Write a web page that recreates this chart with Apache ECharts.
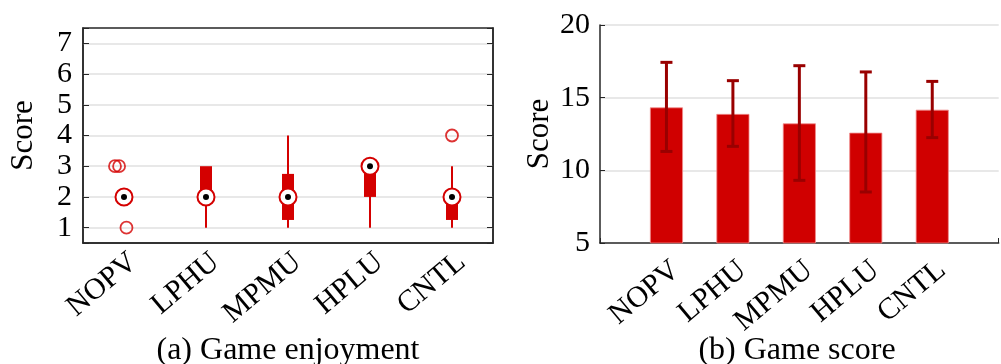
<!DOCTYPE html>
<html>
<head>
<meta charset="utf-8">
<script src="https://cdn.jsdelivr.net/npm/echarts@6/dist/echarts.min.js"></script>
<style>html,body{margin:0;padding:0;background:#fff}#c{width:1001px;height:364px}</style>
</head>
<body>
<div id="c"></div>
<script>
// ---- data ----
const categories = ['NOPV', 'LPHU', 'MPMU', 'HPLU', 'CNTL'];
// left: game enjoyment box stats [min, q1, median, q3, max]
const boxMin    = [2, 1, 1,    1, 1];
const boxQ1     = [2, 2, 1.25, 2, 1.25];
const boxMedian = [2, 2, 2,    3, 2];
const boxQ3     = [2, 3, 2.75, 3, 2];
const boxMax    = [2, 2, 4,    3, 3];
// outliers: [category position (with jitter), value]
const outlierX = [0.89, 0.94, 1.03, 5.0];
const outlierY = [3, 3, 1, 4];
const enjoyTicks = [1, 2, 3, 4, 5, 6, 7];
// right: game score mean and error extents
const scoreMean = [14.33, 13.88, 13.23, 12.59, 14.17];
const scoreLow  = [11.3, 11.65, 9.31, 8.51, 12.25];
const scoreHigh = [17.43, 16.17, 17.2, 16.77, 16.12];
const scoreTicks = [5, 10, 15, 20];

const FONT = '"Liberation Serif", "Times New Roman", serif';
const RED = '#d40000';
const DARK = '#262626';

const catLabel = v => (Number.isInteger(v) && v >= 1 && v <= categories.length) ? categories[v - 1] : '';
const xLabelStyle = m => ({fontFamily: FONT, fontSize: 30, color: '#000', rotate: 40, margin: m,
                           align: 'right', verticalAlign: 'top', formatter: catLabel});

const boxData = categories.map((c, i) => [i + 1, boxMin[i], boxQ1[i], boxMedian[i], boxQ3[i], boxMax[i]]);
const outlierData = outlierX.map((x, i) => [x, outlierY[i]]);
const barData = categories.map((c, i) => [i + 1, scoreMean[i]]);
const errData = categories.map((c, i) => [i + 1, scoreLow[i], scoreHigh[i]]);

const chart = echarts.init(document.getElementById('c'), null, {renderer: 'canvas'});
chart.setOption({
  animation: false,
  backgroundColor: '#fff',
  title: [
    {text: '(a) Game enjoyment', left: 283, top: 330, textAlign: 'center',
     textStyle: {fontFamily: FONT, fontSize: 32, fontWeight: 'normal', color: '#000'}},
    {text: '(b) Game score', left: 792, top: 330, textAlign: 'center',
     textStyle: {fontFamily: FONT, fontSize: 32, fontWeight: 'normal', color: '#000'}}
  ],
  grid: [
    {left: 83, top: 28, width: 410, height: 215, show: true, borderColor: DARK, borderWidth: 1.5, backgroundColor: 'transparent'},
    {left: 600, top: 25, width: 404, height: 218}
  ],
  xAxis: [
    {type: 'value', gridIndex: 0, min: 0.5, max: 5.5, splitNumber: 5,
     axisLine: {show: true, lineStyle: {color: DARK, width: 1.5}},
     axisTick: {show: false}, splitLine: {show: false},
     axisLabel: xLabelStyle(4)},
    {type: 'value', gridIndex: 1, min: 0, max: 6, interval: 1,
     axisLine: {show: true, onZero: false, lineStyle: {color: DARK, width: 1.5}},
     axisTick: {show: true, inside: true, length: 5, lineStyle: {color: DARK, width: 1}},
     splitLine: {show: false},
     axisLabel: xLabelStyle(12)}
  ],
  yAxis: [
    {type: 'value', gridIndex: 0, min: 0.5, max: 7.5, splitNumber: 7, position: 'left',
     name: 'Score', nameLocation: 'middle', nameGap: 44,
     nameTextStyle: {fontFamily: FONT, fontSize: 31, color: '#000'},
     axisLine: {show: true, lineStyle: {color: DARK, width: 1.5}},
     axisTick: {show: true, inside: true, length: 6, lineStyle: {color: DARK, width: 1}},
     splitLine: {show: true, showMinLine: false, showMaxLine: false, lineStyle: {color: '#e0e0e0', width: 1.5}},
     axisLabel: {fontFamily: FONT, fontSize: 30, color: '#000', margin: 11,
                 formatter: v => enjoyTicks.includes(v) ? String(v) : ''}},
    {type: 'value', gridIndex: 0, min: 0.5, max: 7.5, splitNumber: 7, position: 'right',
     axisLine: {show: true, lineStyle: {color: DARK, width: 1.5}},
     axisTick: {show: true, inside: true, length: 6, lineStyle: {color: DARK, width: 1}},
     splitLine: {show: false}, axisLabel: {show: false}},
    {type: 'value', gridIndex: 1, min: 5, max: 20, interval: 5,
     name: 'Score', nameLocation: 'middle', nameGap: 45,
     nameTextStyle: {fontFamily: FONT, fontSize: 31, color: '#000'},
     axisLine: {show: true, lineStyle: {color: DARK, width: 1.5}},
     axisTick: {show: true, inside: true, length: 5, lineStyle: {color: DARK, width: 1}},
     splitLine: {show: true, showMinLine: false, lineStyle: {color: '#e0e0e0', width: 1.5}},
     axisLabel: {fontFamily: FONT, fontSize: 30, color: '#000', margin: 10,
                 formatter: v => scoreTicks.includes(v) ? String(v) : ''}}
  ],
  series: [
    {type: 'custom', xAxisIndex: 0, yAxisIndex: 0, data: boxData, z: 5,
     renderItem: function (params, api) {
       const x = api.value(0);
       const pMin = api.coord([x, api.value(1)]);
       const pQ1 = api.coord([x, api.value(2)]);
       const pMed = api.coord([x, api.value(3)]);
       const pQ3 = api.coord([x, api.value(4)]);
       const pMax = api.coord([x, api.value(5)]);
       const bw = 12;
       const children = [];
       if (pMin[1] !== pMax[1]) {
         children.push({type: 'line', shape: {x1: pMin[0], y1: pMin[1], x2: pMax[0], y2: pMax[1]},
                        style: {stroke: RED, lineWidth: 2}});
       }
       if (pQ1[1] !== pQ3[1]) {
         children.push({type: 'rect', shape: {x: pQ3[0] - bw / 2, y: pQ3[1], width: bw, height: pQ1[1] - pQ3[1]},
                        style: {fill: RED}});
       }
       children.push({type: 'circle', shape: {cx: pMed[0], cy: pMed[1], r: 8.5},
                      style: {fill: '#fff', stroke: RED, lineWidth: 2}});
       children.push({type: 'circle', shape: {cx: pMed[0], cy: pMed[1], r: 3},
                      style: {fill: '#000'}});
       return {type: 'group', children: children};
     }},
    {type: 'scatter', xAxisIndex: 0, yAxisIndex: 0, data: outlierData, symbol: 'circle', symbolSize: 12, z: 4,
     itemStyle: {color: 'transparent', borderColor: RED, borderWidth: 1.8}},
    {type: 'bar', xAxisIndex: 1, yAxisIndex: 2, data: barData, barWidth: 33,
     itemStyle: {color: '#d00000', borderColor: '#f08a8a', borderWidth: 0.8}},
    {type: 'custom', xAxisIndex: 1, yAxisIndex: 2, data: errData, z: 5,
     renderItem: function (params, api) {
       const x = api.value(0);
       const lo = api.coord([x, api.value(1)]);
       const hi = api.coord([x, api.value(2)]);
       const cw = 6;
       const st = {stroke: '#990000', lineWidth: 3};
       return {type: 'group', children: [
         {type: 'line', shape: {x1: lo[0], y1: lo[1], x2: hi[0], y2: hi[1]}, style: st},
         {type: 'line', shape: {x1: hi[0] - cw, y1: hi[1], x2: hi[0] + cw, y2: hi[1]}, style: st},
         {type: 'line', shape: {x1: lo[0] - cw, y1: lo[1], x2: lo[0] + cw, y2: lo[1]}, style: st}
       ]};
     }}
  ]
});
</script>
</body>
</html>
